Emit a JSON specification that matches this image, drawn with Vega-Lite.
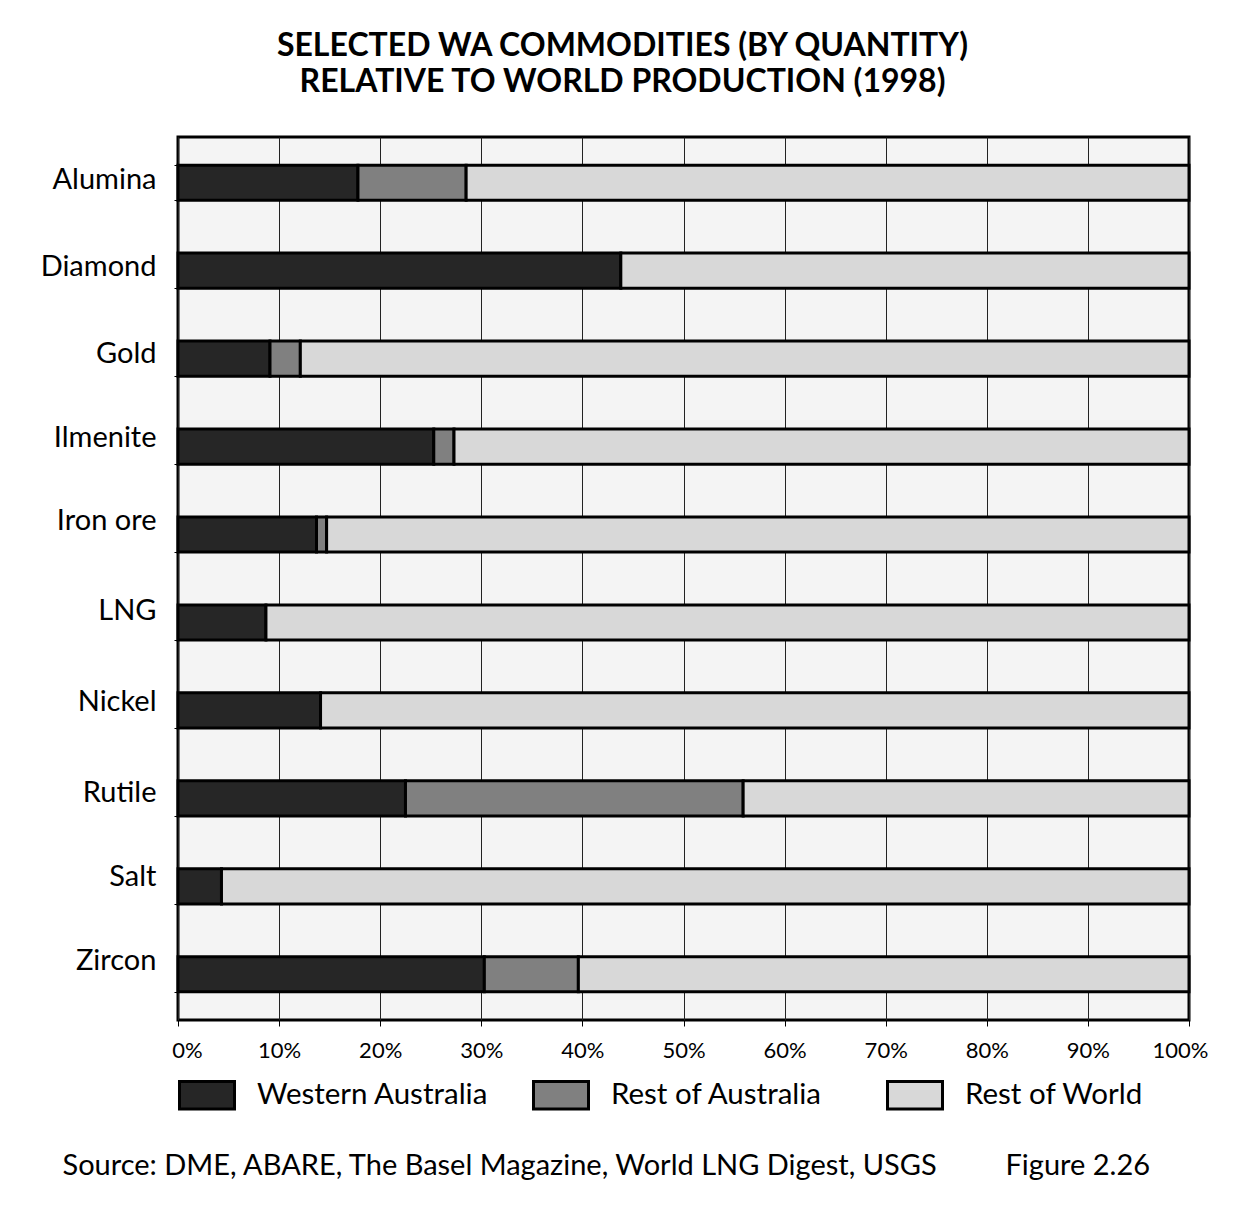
{
  "$schema": "https://vega.github.io/schema/vega-lite/v6.json",
  "autosize": {"type": "none"},
  "width": 1011,
  "height": 883,
  "padding": {"left": 178, "top": 137, "right": 54, "bottom": 199},
  "background": "white",
  "title": {
    "text": ["SELECTED WA COMMODITIES (BY QUANTITY)", "RELATIVE TO WORLD PRODUCTION (1998)"],
    "font": "Lato",
    "fontSize": 32,
    "fontWeight": "bold",
    "color": "black",
    "anchor": "middle",
    "frame": "group",
    "dx": -61,
    "offset": 24,
    "lineHeight": 36
  },
  "data": {
    "values": [
      {"commodity": "Alumina", "region": "Western Australia", "value": 17.8, "order": 1},
      {"commodity": "Alumina", "region": "Rest of Australia", "value": 10.7, "order": 2},
      {"commodity": "Alumina", "region": "Rest of World", "value": 71.5, "order": 3},
      {"commodity": "Diamond", "region": "Western Australia", "value": 43.8, "order": 1},
      {"commodity": "Diamond", "region": "Rest of World", "value": 56.2, "order": 3},
      {"commodity": "Gold", "region": "Western Australia", "value": 9.1, "order": 1},
      {"commodity": "Gold", "region": "Rest of Australia", "value": 3.0, "order": 2},
      {"commodity": "Gold", "region": "Rest of World", "value": 87.9, "order": 3},
      {"commodity": "Ilmenite", "region": "Western Australia", "value": 25.3, "order": 1},
      {"commodity": "Ilmenite", "region": "Rest of Australia", "value": 2.0, "order": 2},
      {"commodity": "Ilmenite", "region": "Rest of World", "value": 72.7, "order": 3},
      {"commodity": "Iron ore", "region": "Western Australia", "value": 13.7, "order": 1},
      {"commodity": "Iron ore", "region": "Rest of Australia", "value": 1.0, "order": 2},
      {"commodity": "Iron ore", "region": "Rest of World", "value": 85.3, "order": 3},
      {"commodity": "LNG", "region": "Western Australia", "value": 8.7, "order": 1},
      {"commodity": "LNG", "region": "Rest of World", "value": 91.3, "order": 3},
      {"commodity": "Nickel", "region": "Western Australia", "value": 14.1, "order": 1},
      {"commodity": "Nickel", "region": "Rest of World", "value": 85.9, "order": 3},
      {"commodity": "Rutile", "region": "Western Australia", "value": 22.5, "order": 1},
      {"commodity": "Rutile", "region": "Rest of Australia", "value": 33.4, "order": 2},
      {"commodity": "Rutile", "region": "Rest of World", "value": 44.1, "order": 3},
      {"commodity": "Salt", "region": "Western Australia", "value": 4.3, "order": 1},
      {"commodity": "Salt", "region": "Rest of World", "value": 95.7, "order": 3},
      {"commodity": "Zircon", "region": "Western Australia", "value": 30.3, "order": 1},
      {"commodity": "Zircon", "region": "Rest of Australia", "value": 9.3, "order": 2},
      {"commodity": "Zircon", "region": "Rest of World", "value": 60.4, "order": 3}
    ]
  },
  "mark": {"type": "bar", "stroke": "black", "strokeWidth": 3},
  "encoding": {
    "y": {
      "field": "commodity",
      "type": "nominal",
      "sort": null,
      "scale": {"paddingInner": 0.6, "paddingOuter": 0.32},
      "axis": {
        "title": "Figure 2.26",
        "titleAngle": 0,
        "titleX": 827,
        "titleY": 1028,
        "titleAlign": "left",
        "titleBaseline": "middle",
        "titleFont": "Lato",
        "titleFontSize": 29,
        "titleFontWeight": "normal",
        "titleColor": "black",
        "labelFont": "Lato",
        "labelFontSize": 29,
        "labelColor": "black",
        "labelPadding": 18,
        "labelOffset": {
          "condition": [
            {"test": "datum.value == 'Alumina'", "value": -3},
            {"test": "datum.value == 'Diamond'", "value": -4},
            {"test": "datum.value == 'Gold'", "value": -5},
            {"test": "datum.value == 'Ilmenite'", "value": -9},
            {"test": "datum.value == 'Iron ore'", "value": -14},
            {"test": "datum.value == 'LNG'", "value": -12},
            {"test": "datum.value == 'Nickel'", "value": -9},
            {"test": "datum.value == 'Rutile'", "value": -6},
            {"test": "datum.value == 'Salt'", "value": -10}
          ],
          "value": -14
        },
        "ticks": true,
        "tickBand": "extent",
        "tickSize": 4,
        "tickColor": "black",
        "domain": false,
        "grid": false
      }
    },
    "x": {
      "field": "value",
      "type": "quantitative",
      "stack": "zero",
      "scale": {"domain": [0, 100]},
      "axis": {
        "values": [0, 10, 20, 30, 40, 50, 60, 70, 80, 90, 100],
        "labelExpr": "datum.value + '%'",
        "labelFont": "Lato",
        "labelFontSize": 22,
        "labelColor": "black",
        "labelPadding": 14,
        "labelFlush": false,
        "labelOffset": {
          "condition": [
            {"test": "datum.value == 0", "value": 9},
            {"test": "datum.value == 100", "value": -9}
          ],
          "value": 0
        },
        "tickSize": 6,
        "tickColor": "black",
        "domain": false,
        "grid": true,
        "gridColor": "#222222",
        "gridWidth": 1,
        "gridOpacity": 1,
        "title": "Source: DME, ABARE, The Basel Magazine, World LNG Digest, USGS",
        "titleX": -116,
        "titleY": 145,
        "titleAlign": "left",
        "titleBaseline": "middle",
        "titleFont": "Lato",
        "titleFontSize": 29,
        "titleFontWeight": "normal",
        "titleColor": "black"
      }
    },
    "color": {
      "field": "region",
      "type": "nominal",
      "scale": {
        "domain": ["Western Australia", "Rest of Australia", "Rest of World"],
        "range": ["#262626", "#808080", "#d8d8d8"]
      },
      "legend": {
        "title": null,
        "orient": "none",
        "legendX": 0,
        "legendY": 929,
        "direction": "horizontal",
        "columns": 3,
        "gridAlign": "all",
        "columnPadding": 38,
        "padding": 0,
        "symbolType": "M-1,-0.5L1,-0.5L1,0.5L-1,0.5Z",
        "symbolSize": 3025,
        "symbolStrokeColor": "black",
        "symbolStrokeWidth": 3,
        "symbolOpacity": 1,
        "labelFont": "Lato",
        "labelFontSize": 29.5,
        "labelColor": "black",
        "labelOffset": 21,
        "labelLimit": 400
      }
    },
    "order": {"field": "order", "type": "quantitative"}
  },
  "config": {
    "view": {"fill": "#f4f4f4", "stroke": "black", "strokeWidth": 3}
  }
}
